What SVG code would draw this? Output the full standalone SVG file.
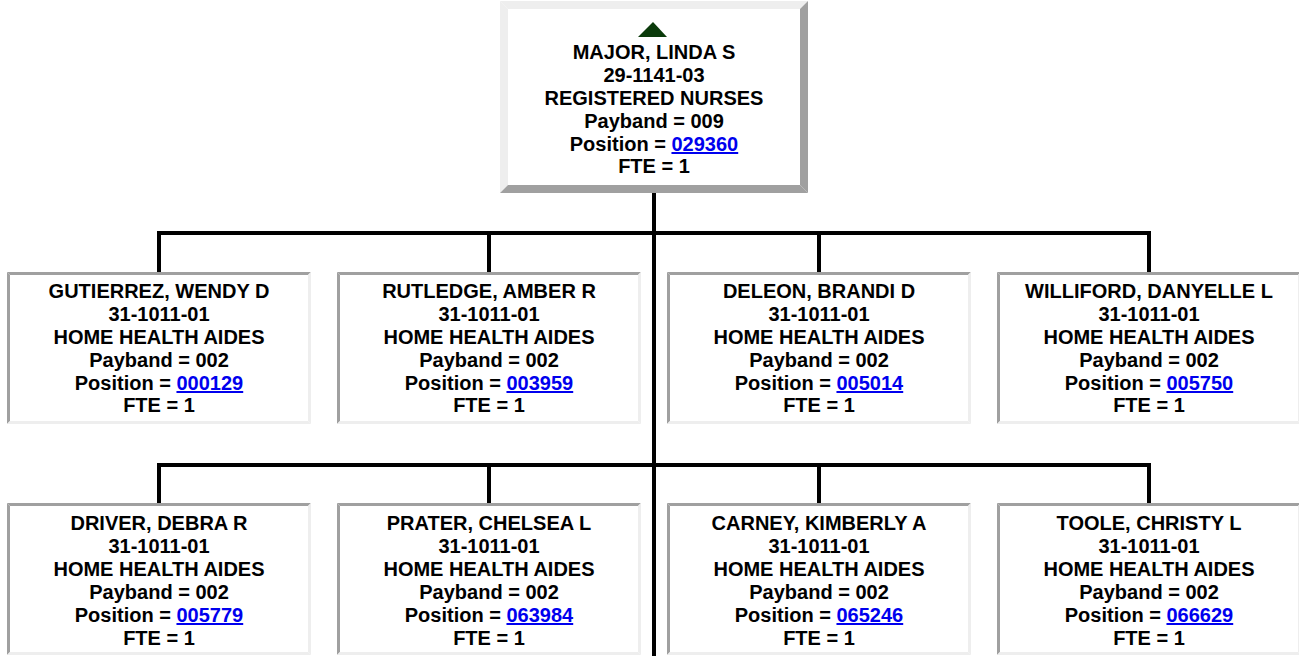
<svg xmlns="http://www.w3.org/2000/svg" xmlns:xlink="http://www.w3.org/1999/xlink" width="1299" height="656" viewBox="0 0 1299 656">
<style>
text{font-family:"Liberation Sans",Arial,sans-serif;font-weight:bold;font-size:20px;fill:#000;text-anchor:middle}
.lk{fill:#0000ee;text-decoration:underline}
.dk{fill:#a0a0a0}
.lt{fill:#eeeeee}
.cn{fill:none;stroke:#000;stroke-width:4;stroke-linejoin:miter}
</style>
<defs>
<g id="childFrame">
<rect x="0" y="0" width="304" height="152" fill="#fff"/>
<polygon class="dk" points="0,0 304,0 301,3 3,3"/>
<polygon class="dk" points="0,0 3,3 3,149 0,152"/>
<polygon class="lt" points="0,152 3,149 301,149 304,152"/>
<polygon class="lt" points="304,0 304,152 301,149 301,3"/>
</g>
<g id="topFrame">
<rect x="0" y="0" width="308" height="192" fill="#fff"/>
<polygon class="lt" points="0,0 308,0 300,8 8,8"/>
<polygon class="lt" points="0,0 8,8 8,184 0,192"/>
<polygon class="dk" points="0,192 8,184 300,184 308,192"/>
<polygon class="dk" points="308,0 308,192 300,184 300,8"/>
</g>
</defs>
<rect width="1299" height="656" fill="#fff"/>
<g id="connectors">
<path class="cn" d="M654,193 V656"/>
<path class="cn" d="M159,272 V233 H1149 V272 M489,233 V272 M819,233 V272"/>
<path class="cn" d="M159,503 V465 H1149 V503 M489,465 V503 M819,465 V503"/>
</g>
<g id="major">
<use xlink:href="#topFrame" x="500" y="1"/>
<polygon points="638,37 667,37 653,22" fill="#0b3b0b"/>
<text x="654" y="59">MAJOR, LINDA S</text>
<text x="654" y="82">29-1141-03</text>
<text x="654" y="105">REGISTERED NURSES</text>
<text x="654" y="128">Payband = 009</text>
<text x="654" y="151">Position = <tspan class="lk">029360</tspan></text>
<text x="654" y="173">FTE = 1</text>
</g>
<g id="gutierrez">
<use xlink:href="#childFrame" x="7" y="272"/>
<text x="159" y="298">GUTIERREZ, WENDY D</text>
<text x="159" y="321">31-1011-01</text>
<text x="159" y="344">HOME HEALTH AIDES</text>
<text x="159" y="367">Payband = 002</text>
<text x="159" y="390">Position = <tspan class="lk">000129</tspan></text>
<text x="159" y="412">FTE = 1</text>
</g>
<g id="rutledge">
<use xlink:href="#childFrame" x="337" y="272"/>
<text x="489" y="298">RUTLEDGE, AMBER R</text>
<text x="489" y="321">31-1011-01</text>
<text x="489" y="344">HOME HEALTH AIDES</text>
<text x="489" y="367">Payband = 002</text>
<text x="489" y="390">Position = <tspan class="lk">003959</tspan></text>
<text x="489" y="412">FTE = 1</text>
</g>
<g id="deleon">
<use xlink:href="#childFrame" x="667" y="272"/>
<text x="819" y="298">DELEON, BRANDI D</text>
<text x="819" y="321">31-1011-01</text>
<text x="819" y="344">HOME HEALTH AIDES</text>
<text x="819" y="367">Payband = 002</text>
<text x="819" y="390">Position = <tspan class="lk">005014</tspan></text>
<text x="819" y="412">FTE = 1</text>
</g>
<g id="williford">
<use xlink:href="#childFrame" x="997" y="272"/>
<text x="1149" y="298">WILLIFORD, DANYELLE L</text>
<text x="1149" y="321">31-1011-01</text>
<text x="1149" y="344">HOME HEALTH AIDES</text>
<text x="1149" y="367">Payband = 002</text>
<text x="1149" y="390">Position = <tspan class="lk">005750</tspan></text>
<text x="1149" y="412">FTE = 1</text>
</g>
<g id="driver">
<use xlink:href="#childFrame" x="7" y="503"/>
<text x="159" y="530">DRIVER, DEBRA R</text>
<text x="159" y="553">31-1011-01</text>
<text x="159" y="576">HOME HEALTH AIDES</text>
<text x="159" y="599">Payband = 002</text>
<text x="159" y="622">Position = <tspan class="lk">005779</tspan></text>
<text x="159" y="645">FTE = 1</text>
</g>
<g id="prater">
<use xlink:href="#childFrame" x="337" y="503"/>
<text x="489" y="530">PRATER, CHELSEA L</text>
<text x="489" y="553">31-1011-01</text>
<text x="489" y="576">HOME HEALTH AIDES</text>
<text x="489" y="599">Payband = 002</text>
<text x="489" y="622">Position = <tspan class="lk">063984</tspan></text>
<text x="489" y="645">FTE = 1</text>
</g>
<g id="carney">
<use xlink:href="#childFrame" x="667" y="503"/>
<text x="819" y="530">CARNEY, KIMBERLY A</text>
<text x="819" y="553">31-1011-01</text>
<text x="819" y="576">HOME HEALTH AIDES</text>
<text x="819" y="599">Payband = 002</text>
<text x="819" y="622">Position = <tspan class="lk">065246</tspan></text>
<text x="819" y="645">FTE = 1</text>
</g>
<g id="toole">
<use xlink:href="#childFrame" x="997" y="503"/>
<text x="1149" y="530">TOOLE, CHRISTY L</text>
<text x="1149" y="553">31-1011-01</text>
<text x="1149" y="576">HOME HEALTH AIDES</text>
<text x="1149" y="599">Payband = 002</text>
<text x="1149" y="622">Position = <tspan class="lk">066629</tspan></text>
<text x="1149" y="645">FTE = 1</text>
</g>
</svg>
